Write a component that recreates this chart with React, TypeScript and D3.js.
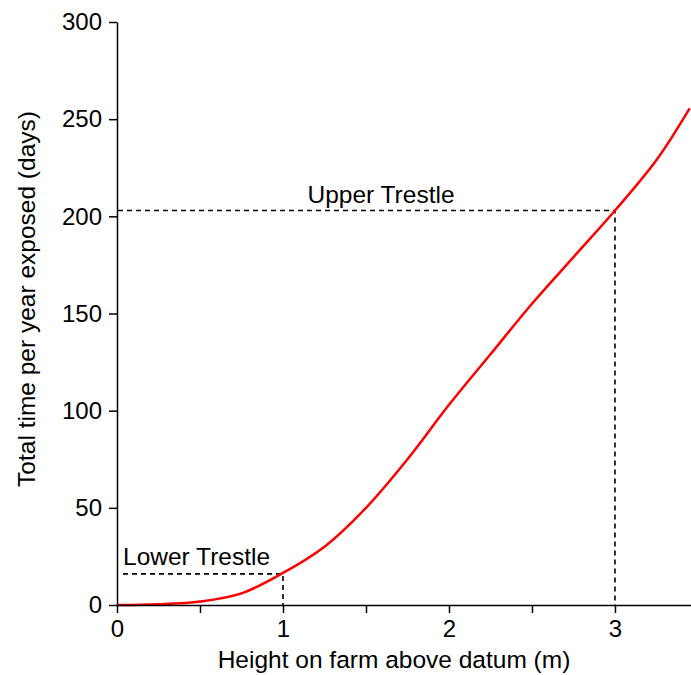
import { useEffect, useRef } from "react";
import { select, scaleLinear, axisLeft, axisBottom, line, curveCatmullRom } from "d3";

const chartWidth = 691;
const chartHeight = 675;

const heights = [0, 0.25, 0.5, 0.75, 1.0, 1.25, 1.5, 1.75, 2.0, 2.25, 2.5, 2.75, 3.0, 3.25, 3.45];
const daysExposed = [0, 0.4, 1.8, 6, 16.5, 30, 50, 75, 103, 129, 155, 179, 203, 229, 255.6];

const yTicks = [0, 50, 100, 150, 200, 250, 300];
const xTicks = [0, 0.5, 1, 1.5, 2, 2.5, 3];

// trestle markers: height (m) and days exposed
const trestleNames = ["Lower Trestle", "Upper Trestle"];
const trestleHeights = [1, 3];
const trestleDays = [16, 203];

const font = "Liberation Sans, Arial, sans-serif";
const labelSize = 24.5;
const tickSize = 24;

const x = scaleLinear().domain([0, 3.458]).range([117, 691]);
const y = scaleLinear().domain([0, 300]).range([605, 22]);

export default function App() {
  const svgRef = useRef<SVGSVGElement | null>(null);

  useEffect(() => {
    const svg = select(svgRef.current);
    svg.selectAll("*").remove();

    // dashed trestle guides
    trestleHeights.forEach((h, i) => {
      const startX = i === 0 ? x(0) + 6 : x(0) + 1;
      svg
        .append("path")
        .attr("d", `M${startX},${y(trestleDays[i])}H${x(h)}V${y(0)}`)
        .attr("fill", "none")
        .attr("stroke", "black")
        .attr("stroke-width", 1.6)
        .attr("stroke-dasharray", "5,4");
    });

    // trestle labels
    svg
      .append("text")
      .attr("x", x(0) + 6)
      .attr("y", y(trestleDays[0]) - 9)
      .attr("font-family", font)
      .attr("font-size", labelSize)
      .text(trestleNames[0]);
    svg
      .append("text")
      .attr("x", 381)
      .attr("y", y(trestleDays[1]) - 8)
      .attr("text-anchor", "middle")
      .attr("font-family", font)
      .attr("font-size", labelSize)
      .text(trestleNames[1]);

    // curve
    const pts = heights.map((h, i) => [h, daysExposed[i]] as [number, number]);
    const path = line<[number, number]>()
      .x((d) => x(d[0]))
      .y((d) => y(d[1]))
      .curve(curveCatmullRom);
    svg
      .append("path")
      .attr("d", path(pts))
      .attr("fill", "none")
      .attr("stroke", "#ff0000")
      .attr("stroke-width", 2.5);

    // y axis
    const yAxis = svg
      .append("g")
      .attr("transform", `translate(${x(0)},0)`)
      .call(
        axisLeft(y)
          .tickValues(yTicks)
          .tickSize(8)
          .tickPadding(7)
          .tickSizeOuter(0)
      );
    yAxis.select(".domain").attr("stroke-width", 1.5);
    yAxis.selectAll(".tick line").attr("stroke-width", 1.5);
    yAxis
      .selectAll(".tick text")
      .attr("font-family", font)
      .attr("font-size", tickSize)
      .attr("fill", "black");

    // x axis
    const xAxis = svg
      .append("g")
      .attr("transform", `translate(0,${y(0)})`)
      .call(
        axisBottom(x)
          .tickValues(xTicks)
          .tickSize(8)
          .tickPadding(7)
          .tickSizeOuter(0)
          .tickFormat((d) => (Number(d) % 1 === 0 ? String(d) : ""))
      );
    xAxis.select(".domain").attr("stroke-width", 1.5);
    xAxis.selectAll(".tick line").attr("stroke-width", 1.5);
    xAxis
      .selectAll(".tick text")
      .attr("font-family", font)
      .attr("font-size", tickSize)
      .attr("fill", "black");

    // axis titles
    svg
      .append("text")
      .attr("x", 394)
      .attr("y", 668)
      .attr("text-anchor", "middle")
      .attr("font-family", font)
      .attr("font-size", labelSize)
      .text("Height on farm above datum (m)");
    svg
      .append("text")
      .attr("transform", `translate(35,299) rotate(-90)`)
      .attr("text-anchor", "middle")
      .attr("font-family", font)
      .attr("font-size", labelSize)
      .text("Total time per year exposed (days)");
  }, []);

  return (
    <svg
      ref={svgRef}
      width={chartWidth}
      height={chartHeight}
      style={{ position: "absolute", left: 0, top: 0, background: "white" }}
    />
  );
}
